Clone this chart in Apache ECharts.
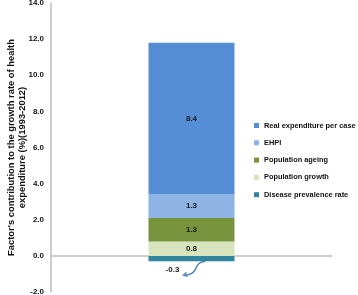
<!DOCTYPE html>
<html>
<head>
<meta charset="utf-8">
<script src="https://cdn.jsdelivr.net/npm/echarts@6/dist/echarts.min.js"></script>
<style>
  html, body { margin: 0; padding: 0; background: #fff; }
  #main { width: 358px; height: 295px; }
</style>
</head>
<body>
<div id="main"></div>
<script>
const categories = ["1993-2012"];
const seriesNames = [
  "Disease prevalence rate",
  "Population growth",
  "Population ageing",
  "EHPI",
  "Real expenditure per case",
];
const diseaseValues = [-0.3];
const growthValues = [0.8];
const ageingValues = [1.3];
const ehpiValues = [1.3];
const realValues = [8.4];
const colors = ["#31859C", "#D7E4BD", "#77933C", "#8EB4E3", "#558ED5"];

const FONT = "Liberation Sans";

const labelStyle = {
  show: true,
  position: "inside",
  color: "#1a1a1a",
  fontSize: 8,
  fontWeight: "bold",
  fontFamily: FONT,
  formatter: (p) => p.value.toFixed(1),
};

function makeSeries(name, data, color, extraLabel) {
  return {
    name: name,
    type: "bar",
    stack: "total",
    data: data,
    barWidth: "30.6%",
    itemStyle: { color: color },
    label: Object.assign({}, labelStyle, extraLabel || {}),
  };
}

function chartOption() {
  return {
    animation: false,
    textStyle: { fontFamily: FONT },
    grid: { left: 51, right: 26, top: 3, bottom: 3, containLabel: false, outerBoundsMode: "none" },
    legend: {
      orient: "vertical",
      left: 249,
      top: 117,
      itemWidth: 5,
      itemHeight: 5,
      itemGap: 10.3,
      icon: "rect",
      data: seriesNames.slice().reverse(),
      textStyle: { fontSize: 7.4, fontWeight: "bold", color: "#111", fontFamily: FONT },
    },
    xAxis: {
      type: "category",
      data: categories,
      axisLine: { onZero: true, lineStyle: { color: "#BFBFBF", width: 1.5 } },
      axisTick: { show: false },
      axisLabel: { show: false },
    },
    yAxis: {
      type: "value",
      min: -2,
      max: 14,
      interval: 2,
      name: "Factor's contribution to the growth rate of health\nexpenditure (%)(1993-2012)",
      nameLocation: "middle",
      nameGap: 23,
      nameMoveOverlap: false,
      nameTextStyle: { fontSize: 9.4, fontWeight: "bold", color: "#111", lineHeight: 11, fontFamily: FONT },
      axisLine: { show: true, lineStyle: { color: "#BFBFBF", width: 1.5 } },
      axisTick: { show: false },
      splitLine: { show: false },
      axisLabel: {
        fontSize: 8,
        fontWeight: "bold",
        color: "#111",
        margin: 7,
        formatter: (v) => v.toFixed(1),
      },
    },
    series: [
      makeSeries(seriesNames[0], diseaseValues, colors[0], { position: "bottom", distance: 5, offset: [-19, 0] }),
      makeSeries(seriesNames[1], growthValues, colors[1]),
      makeSeries(seriesNames[2], ageingValues, colors[2]),
      makeSeries(seriesNames[3], ehpiValues, colors[3]),
      makeSeries(seriesNames[4], realValues, colors[4]),
    ],
  };
}

addEventListener("load", () => {
  const chart = echarts.init(document.getElementById("main"));
  chart.setOption(chartOption());
  // small curved arrow pointing at the negative label
  const start = chart.convertToPixel({ gridIndex: 0 }, [0, diseaseValues[0]]);
  const x0 = start[0] + 14, y0 = start[1];
  const x1 = start[0] - 8, y1 = start[1] + 14;
  chart.setOption({
    graphic: [
      {
        type: "bezierCurve",
        shape: { x1: x0, y1: y0, x2: x1, y2: y1, cpx1: x0 - 14, cpy1: y0 + 1, cpx2: x0 - 4, cpy2: y1 - 1 },
        style: { stroke: "#4F81BD", lineWidth: 1.5, fill: null },
      },
      {
        type: "polyline",
        shape: { points: [[x1 + 3, y1 - 3], [x1, y1], [x1 + 4, y1 + 1]] },
        style: { stroke: "#4F81BD", lineWidth: 1.2, fill: null },
      },
    ],
  });
});
</script>
</body>
</html>
